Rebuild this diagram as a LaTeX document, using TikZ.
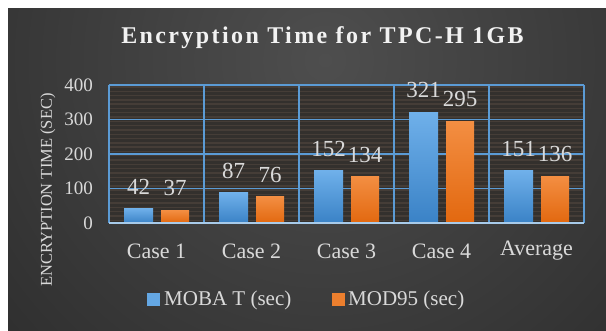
\documentclass[tikz,border=0pt]{standalone}
\usepackage{fontspec}
\setmainfont{Liberation Serif}
\definecolor{bgdark}{HTML}{242424}
\definecolor{bglight}{HTML}{4E4E4E}
\definecolor{plotbg}{HTML}{33302D}
\definecolor{stripe}{HTML}{453D37}
\definecolor{grid}{HTML}{5B9BD5}
\definecolor{axisline}{HTML}{A8CBEA}
\definecolor{blueTop}{HTML}{6FB0EA}
\definecolor{blueBot}{HTML}{3A82C6}
\definecolor{orTop}{HTML}{F38E42}
\definecolor{orBot}{HTML}{E2680F}
\definecolor{txt}{HTML}{D9D9D9}
\tikzset{
  gridline/.style={draw=grid, line width=1.6pt},
  stripeline/.style={draw=stripe, line width=1.4pt},
  bluebar/.style={top color=blueTop, bottom color=blueBot},
  orangebar/.style={top color=orTop, bottom color=orBot},
  vallabel/.style={text=txt, font=\fontsize{23}{23}\selectfont, inner sep=0pt},
  ticklabel/.style={text=txt, font=\fontsize{19}{19}\selectfont, inner sep=0pt, anchor=east},
  catlabel/.style={text=txt, font=\fontsize{22}{22}\selectfont, inner sep=0pt},
  legendtext/.style={text=txt, font=\fontsize{21}{21}\selectfont, inner sep=0pt, anchor=west},
}
\begin{document}
\begin{tikzpicture}[x=1pt,y=-1pt]
\useasboundingbox (0,0) rectangle (606,331);
\fill[white] (0,0) rectangle (606,331);
% dark panel with soft light spot behind the title
\begin{scope}
  \clip (8,9) rectangle (606,331);
  \fill[bgdark] (8,9) rectangle (606,331);
  \shade[inner color=bglight, outer color=bgdark] (325,60) circle (580);
\end{scope}

% title
\node[inner sep=0pt, text=white!95!black,
      font=\fontsize{24}{24}\selectfont\bfseries\addfontfeature{LetterSpace=10}]
  (title) at (322.5,38) {Encryption Time for TPC-H 1GB};

% plot area with horizontal stripes
\fill[plotbg] (109,85) rectangle (584,223);
\foreach \k in {0,...,31}
  \draw[stripeline] (109,{87+4.3*\k}) -- (584,{87+4.3*\k});

% horizontal gridlines and tick labels
\foreach \v in {100,200,300,400}
  \draw[gridline] (109,{223-0.345*\v}) -- (584,{223-0.345*\v});
\foreach \v in {0,100,200,300,400}
  \node[ticklabel] (tick\v) at (93,{223-0.345*\v}) {\v};

% category separators
\foreach \i in {0,...,5}
  \draw[gridline] ({109+95*\i},85) -- ({109+95*\i},223);

% bars and value labels
\foreach \i/\a/\b/\cat in {0/42/37/Case 1,1/87/76/Case 2,2/152/134/Case 3,3/321/295/Case 4,4/151/136/Average} {
  \pgfmathsetmacro{\L}{109+95*\i}
  \shade[bluebar] ({\L+15},{223-0.345*\a}) rectangle ({\L+44},223);
  \shade[orangebar] ({\L+52},{223-0.345*\b}) rectangle ({\L+80},223);
  \node[vallabel] (va\i) at ({\L+29.5},{223-0.345*\a-22}) {\a};
  \node[vallabel] (vb\i) at ({\L+66},{223-0.345*\b-22}) {\b};
  \node[catlabel] (cat\i) at ({\L+47.5},251) {\cat};
}

% category axis
\draw[draw=axisline, line width=1.8pt] (109,223) -- (584,223);

% axis title
\node[text=txt, rotate=90, font=\fontsize{16.5}{16.5}\selectfont, inner sep=0pt]
  (ytitle) at (48,190) {ENCRYPTION TIME (SEC)};

% legend
\fill[blueTop!80!blueBot] (147,293) rectangle (160,306);
\node[legendtext] (legA) at (164,300) {MOBA T (sec)};
\fill[orTop!60!orBot] (332,293) rectangle (345,306);
\node[legendtext] (legB) at (348,300) {MOD95 (sec)};
\end{tikzpicture}
\end{document}
